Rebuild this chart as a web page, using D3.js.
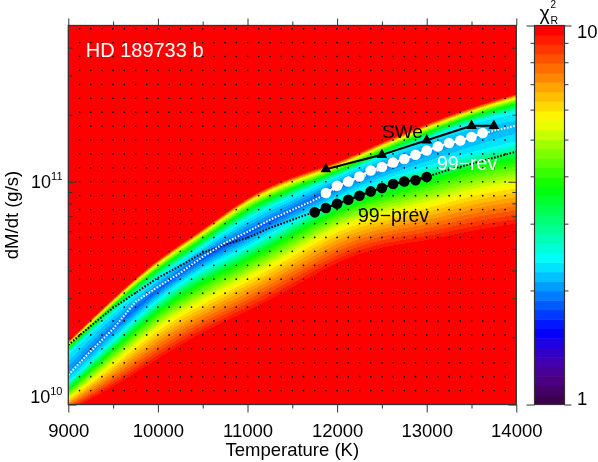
<!DOCTYPE html>
<html>
<head>
<meta charset="utf-8">
<script src="https://cdn.jsdelivr.net/npm/d3@7"></script>
<style>
body { margin: 0; background: #fff; }
#wrap { position: relative; width: 598px; height: 462px; }
#heat, #chart { position: absolute; left: 0; top: 0; }
text { font-family: "Liberation Sans", Arial, Helvetica, sans-serif; }
</style>
</head>
<body>
<div id="wrap">
<canvas id="heat" width="598" height="462"></canvas>
<svg id="chart" width="598" height="462"></svg>
</div>
<script>
const tempCols = [9000, 9500, 10000, 10500, 11000, 11500, 12000, 12500, 13000, 13500, 14000]

// log10(dM/dt) where the chi2_R contours cross each column, above (Top) and below (Bot) the valley
const redTop    = [10.285, 10.479, 10.658, 10.784, 10.937, 11.027, 11.085, 11.180, 11.261, 11.337, 11.396]
const yellowTop = [10.272, 10.465, 10.640, 10.766, 10.919, 11.004, 11.067, 11.162, 11.243, 11.319, 11.378]
const greenTop  = [10.254, 10.447, 10.613, 10.739, 10.883, 10.973, 11.045, 11.139, 11.220, 11.297, 11.351]
const cyanTop   = [10.227, 10.416, 10.573, 10.708, 10.838, 10.933, 11.022, 11.112, 11.189, 11.270, 11.310]
const valleyLog = [10.146, 10.344, 10.519, 10.663, 10.766, 10.874, 10.978, 11.063, 11.135, 11.202, 11.247]
const cyanBot   = [10.101, 10.290, 10.479, 10.613, 10.708, 10.820, 10.928, 11.009, 11.067, 11.130, 11.175]
const greenBot  = [10.065, 10.245, 10.425, 10.551, 10.649, 10.762, 10.874, 10.942, 10.996, 11.063, 11.099]
const yellowBot = [10.025, 10.178, 10.348, 10.461, 10.560, 10.672, 10.793, 10.852, 10.888, 10.951, 10.982]
const redBot    = [9.966, 10.065, 10.191, 10.312, 10.402, 10.506, 10.627, 10.694, 10.717, 10.762, 10.793]

// chi2_R at the valley floor and on the red / yellow / green / cyan contours
const valleyChi2 = [2.0, 1.86, 1.86, 1.78, 1.82, 1.86, 1.86, 1.9, 2.0, 2.04, 2.14]
const contourChi2 = [10, 5.75, 3.76, 2.4]

// dotted tracks (log10 dM/dt)
const trackTemps = [9000, 9250, 9500, 9750, 10000, 10250, 10500, 10750, 11000, 11250, 11500,
    11750, 12000, 12250, 12500, 12750, 13000, 13250, 13500, 13750, 14000]
const whiteTrack = [10.133, 10.240, 10.339, 10.461, 10.528, 10.591, 10.663, 10.726, 10.775, 10.829, 10.874,
    10.919, 10.973, 11.018, 11.058, 11.099, 11.139, 11.171, 11.202, 11.229, 11.252]
const blackTrack = [10.267, 10.353, 10.434, 10.501, 10.569, 10.622, 10.681, 10.717, 10.748, 10.793, 10.829,
    10.865, 10.901, 10.937, 10.973, 11.000, 11.022, 11.054, 11.081, 11.108, 11.135]

// model series (dM/dt in g/s)
const revTemps = [11875, 12000, 12125, 12250, 12375, 12500, 12625, 12750, 12875, 13000, 13125, 13250, 13375, 13500, 13625]
const revMdot = [0.890e11, 0.959e11, 1.003e11, 1.056e11, 1.124e11, 1.165e11, 1.221e11, 1.265e11,
    1.322e11, 1.382e11, 1.440e11, 1.492e11, 1.533e11, 1.588e11, 1.655e11]
const prevTemps = [11750, 11875, 12000, 12125, 12250, 12375, 12500, 12625, 12750, 12875, 13000]
const prevMdot = [0.729e11, 0.762e11, 0.797e11, 0.830e11, 0.866e11, 0.905e11, 0.937e11, 0.977e11,
    1.003e11, 1.016e11, 1.050e11]
const sweTemps = [11875, 12500, 13000, 13500, 13750]
const sweMdot = [1.138e11, 1.321e11, 1.535e11, 1.783e11, 1.783e11]

// axes
const xMajor = [9000, 10000, 11000, 12000, 13000, 14000]
const xMinor = [9500, 10500, 11500, 12500, 13500]
const yMajor = [1e10, 1e11]
const yMinor = [2e10, 3e10, 4e10, 5e10, 6e10, 7e10, 8e10, 9e10, 2e11, 3e11, 4e11]
const barMinor = [2, 3, 4, 5, 6, 7, 8, 9]
const nBands = 40

const axisColor = "#333"

let x = d3.scaleLinear().domain([9000, 14000]).range([68.3, 516.3])
let y = d3.scaleLog().domain([1e10, 5.03e11]).range([404.5, 25.5])
let cy = d3.scaleLog().domain([1, 10]).range([404.5, 25.5])

// rainbow colour table, purple -> red
const ramp = d3.scaleLinear()
    .domain([0, 0.05, 0.1, 0.15, 0.188, 0.38, 0.575, 0.76, 1])
    .range(["#3c004c", "#4a0080", "#4400ac", "#2000e0", "#0000ff", "#00ffff", "#00ff00", "#ffff00", "#ff0000"])
const bandColors = d3.range(nBands).map(i => ramp(i / (nBands - 1)))
const band = chi2 => Math.max(0, Math.min(nBands - 1, Math.floor(Math.log10(chi2) * nBands)))

// ---- heat map ----
// smooth curve through the read columns
const tFrac = d3.scaleLinear().domain(d3.extent(tempCols)).range([0, 1]).clamp(true)
const colCurve = arr => {
    const s = d3.interpolateBasis(arr)
    return T => s(tFrac(T))
}
const knotCurves = [redBot, yellowBot, greenBot, cyanBot, valleyLog, cyanTop, greenTop, yellowTop, redTop].map(colCurve)
const valleyCurve = colCurve(valleyChi2)
const lv = contourChi2.map(c => Math.log10(c))

const ctx = document.getElementById("heat").getContext("2d")
const x0 = 68, y0 = 26, w = 448, h = 379
const img = ctx.createImageData(w, h)
const rgbBands = bandColors.map(c => d3.rgb(c))

for (let px = 0; px < w; px++) {
    const T = x.invert(x0 + px + 0.5)
    const knots = knotCurves.map(s => s(T))
    const vmin = Math.log10(valleyCurve(T))
    const values = [lv[0], lv[1], lv[2], lv[3], vmin, lv[3], lv[2], lv[1], lv[0]]
    const prof = d3.scaleLinear().domain(knots).range(values).clamp(true)
    for (let py = 0; py < h; py++) {
        const lm = Math.log10(y.invert(y0 + py + 0.5))
        const c = rgbBands[band(Math.pow(10, prof(lm)))]
        const k = (py * w + px) * 4
        img.data[k] = c.r
        img.data[k + 1] = c.g
        img.data[k + 2] = c.b
        img.data[k + 3] = 255
    }
}
ctx.putImageData(img, x0, y0)

// ---- svg layer ----
let svg = d3.select("#chart")

svg.append("defs").append("clipPath").attr("id", "plotClip")
    .append("rect")
    .attr("x", x.range()[0]).attr("y", y.range()[1])
    .attr("width", x.range()[1] - x.range()[0])
    .attr("height", y.range()[0] - y.range()[1])

let plot = svg.append("g").attr("clip-path", "url(#plotClip)")

// model grid points
const gridT = d3.range(9125, 14000, 125)
const gridLog = d3.range(10.0625, 11.7, 0.0625)
plot.append("g")
    .selectAll("circle")
    .data(gridT.flatMap(t => gridLog.map(l => [t, l])))
    .enter()
    .append("circle")
    .attr("cx", d => x(d[0]))
    .attr("cy", d => y(Math.pow(10, d[1])))
    .attr("r", 0.85)
    .attr("fill", "#000")

// dotted tracks
const trackLine = d3.line()
    .x((d, i) => x(trackTemps[i]))
    .y(d => y(Math.pow(10, d)))

plot.append("path")
    .attr("d", trackLine(blackTrack))
    .attr("fill", "none")
    .attr("stroke", "#000")
    .attr("stroke-width", 2)
    .attr("stroke-dasharray", "1.6,1.6")

plot.append("path")
    .attr("d", trackLine(whiteTrack))
    .attr("fill", "none")
    .attr("stroke", "#fff")
    .attr("stroke-width", 2)
    .attr("stroke-dasharray", "1.6,1.6")

const seriesLine = temps => d3.line()
    .x((d, i) => x(temps[i]))
    .y(d => y(d))

// SWe
plot.append("path")
    .attr("d", seriesLine(sweTemps)(sweMdot))
    .attr("fill", "none")
    .attr("stroke", "#000")
    .attr("stroke-width", 2)
plot.selectAll(".swe")
    .data(sweMdot)
    .enter()
    .append("path")
    .attr("class", "swe")
    .attr("d", d3.symbol().type(d3.symbolTriangle).size(50))
    .attr("transform", (d, i) => "translate(" + x(sweTemps[i]) + "," + y(d) + ")")
    .attr("fill", "#000")

// 99-rev
plot.append("path")
    .attr("d", seriesLine(revTemps)(revMdot))
    .attr("fill", "none")
    .attr("stroke", "#fff")
    .attr("stroke-width", 2)
plot.selectAll(".rev")
    .data(revMdot)
    .enter()
    .append("circle")
    .attr("class", "rev")
    .attr("cx", (d, i) => x(revTemps[i]))
    .attr("cy", d => y(d))
    .attr("r", 5.3)
    .attr("fill", "#fff")

// 99-prev
plot.append("path")
    .attr("d", seriesLine(prevTemps)(prevMdot))
    .attr("fill", "none")
    .attr("stroke", "#000")
    .attr("stroke-width", 2)
plot.selectAll(".prev")
    .data(prevMdot)
    .enter()
    .append("circle")
    .attr("class", "prev")
    .attr("cx", (d, i) => x(prevTemps[i]))
    .attr("cy", d => y(d))
    .attr("r", 5.3)
    .attr("fill", "#000")

// labels inside the plot
svg.append("text").attr("x", 85.7).attr("y", 57).attr("fill", "#fff")
    .style("font-size", "20px").text("HD 189733 b")
svg.append("text").attr("x", 382).attr("y", 137.5).attr("fill", "#000")
    .style("font-size", "19px").text("SWe")
svg.append("text").attr("x", 437).attr("y", 170).attr("fill", "#fff")
    .style("font-size", "19.5px").text("99\u2212rev")
svg.append("text").attr("x", 358).attr("y", 221.7).attr("fill", "#000")
    .style("font-size", "19.5px").text("99\u2212prev")

// ---- axes ----
const styleAxis = g => {
    g.select(".domain").remove()
    g.selectAll(".tick line").attr("stroke", axisColor).attr("stroke-width", 1)
    g.selectAll(".tick text").attr("fill", "#000").style("font-size", "18.5px")
        .style("font-family", "'Liberation Sans', Arial, sans-serif")
}

svg.append("g")
    .attr("transform", "translate(0," + y.range()[0] + ")")
    .call(d3.axisBottom(x).tickValues(xMajor).tickSize(8).tickPadding(11.5).tickFormat(d3.format("d")))
    .call(styleAxis)
svg.append("g")
    .attr("transform", "translate(0," + y.range()[0] + ")")
    .call(d3.axisBottom(x).tickValues(xMinor).tickSize(4).tickFormat(""))
    .call(styleAxis)
svg.append("g")
    .attr("transform", "translate(0," + y.range()[1] + ")")
    .call(d3.axisTop(x).tickValues(xMajor).tickSize(7).tickFormat(""))
    .call(styleAxis)
svg.append("g")
    .attr("transform", "translate(0," + y.range()[1] + ")")
    .call(d3.axisTop(x).tickValues(xMinor).tickSize(4).tickFormat(""))
    .call(styleAxis)

svg.append("g")
    .attr("transform", "translate(" + x.range()[0] + ",0)")
    .call(d3.axisLeft(y).tickValues(yMajor).tickSize(-8).tickFormat(""))
    .call(styleAxis)
svg.append("g")
    .attr("transform", "translate(" + x.range()[0] + ",0)")
    .call(d3.axisLeft(y).tickValues(yMinor).tickSize(-4).tickFormat(""))
    .call(styleAxis)
svg.append("g")
    .attr("transform", "translate(" + x.range()[1] + ",0)")
    .call(d3.axisRight(y).tickValues(yMajor).tickSize(-8).tickFormat(""))
    .call(styleAxis)
svg.append("g")
    .attr("transform", "translate(" + x.range()[1] + ",0)")
    .call(d3.axisRight(y).tickValues(yMinor).tickSize(-4).tickFormat(""))
    .call(styleAxis)

// y tick labels 10^n
yMajor.forEach(v => {
    const base = Math.min(y(v) + 6.5, 403)
    const t = svg.append("text")
        .attr("x", 62.5)
        .attr("y", base)
        .attr("text-anchor", "end")
        .attr("fill", "#000")
    t.append("tspan").style("font-size", "18px").text("10")
    t.append("tspan").attr("dy", -8.5).style("font-size", "11px").text(Math.round(Math.log10(v)))
})

svg.append("rect")
    .attr("x", x.range()[0]).attr("y", y.range()[1])
    .attr("width", x.range()[1] - x.range()[0])
    .attr("height", y.range()[0] - y.range()[1])
    .attr("fill", "none")
    .attr("stroke", axisColor)
    .attr("stroke-width", 1.3)

svg.append("text")
    .attr("x", (x.range()[0] + x.range()[1]) / 2)
    .attr("y", 456)
    .attr("text-anchor", "middle")
    .style("font-size", "18.5px")
    .text("Temperature (K)")

svg.append("text")
    .attr("transform", "translate(18," + (y.range()[0] + y.range()[1]) / 2 + ") rotate(-90)")
    .attr("text-anchor", "middle")
    .style("font-size", "18.5px")
    .text("dM/dt (g/s)")

// ---- colour bar ----
const barX = 534.5, barW = 30
const bandEdges = d3.range(nBands + 1).map(i => Math.pow(10, i / nBands))

svg.append("g")
    .selectAll("rect")
    .data(bandColors)
    .enter()
    .append("rect")
    .attr("x", barX)
    .attr("width", barW)
    .attr("y", (d, i) => cy(bandEdges[i + 1]))
    .attr("height", (d, i) => cy(bandEdges[i]) - cy(bandEdges[i + 1]) + 0.5)
    .attr("fill", d => d)

svg.append("rect")
    .attr("x", barX).attr("y", cy.range()[1])
    .attr("width", barW).attr("height", cy.range()[0] - cy.range()[1])
    .attr("fill", "none").attr("stroke", axisColor).attr("stroke-width", 1.2)

svg.append("g").attr("transform", "translate(" + barX + ",0)")
    .call(d3.axisLeft(cy).tickValues(barMinor).tickSize(4).tickFormat(""))
    .call(styleAxis)
svg.append("g").attr("transform", "translate(" + (barX + barW) + ",0)")
    .call(d3.axisRight(cy).tickValues(barMinor).tickSize(4).tickFormat(""))
    .call(styleAxis)
svg.append("g").attr("transform", "translate(" + barX + ",0)")
    .call(d3.axisLeft(cy).tickValues([1, 10]).tickSize(8).tickFormat(""))
    .call(styleAxis)
svg.append("g").attr("transform", "translate(" + (barX + barW) + ",0)")
    .call(d3.axisRight(cy).tickValues([1, 10]).tickSize(7).tickFormat(""))
    .call(styleAxis)

svg.append("text").attr("x", 577).attr("y", cy(10) + 12.8).style("font-size", "18.5px").text("10")
svg.append("text").attr("x", 577).attr("y", cy(1)).style("font-size", "18.5px").text("1")

// chi^2_R title
svg.append("text").attr("x", 539.5).attr("y", 19.5).style("font-size", "19.5px").text("\u03c7")
svg.append("text").attr("x", 550.5).attr("y", 8).style("font-size", "10px").text("2")
svg.append("text").attr("x", 550.5).attr("y", 23.5).style("font-size", "10.5px").text("R")
</script>
</body>
</html>
